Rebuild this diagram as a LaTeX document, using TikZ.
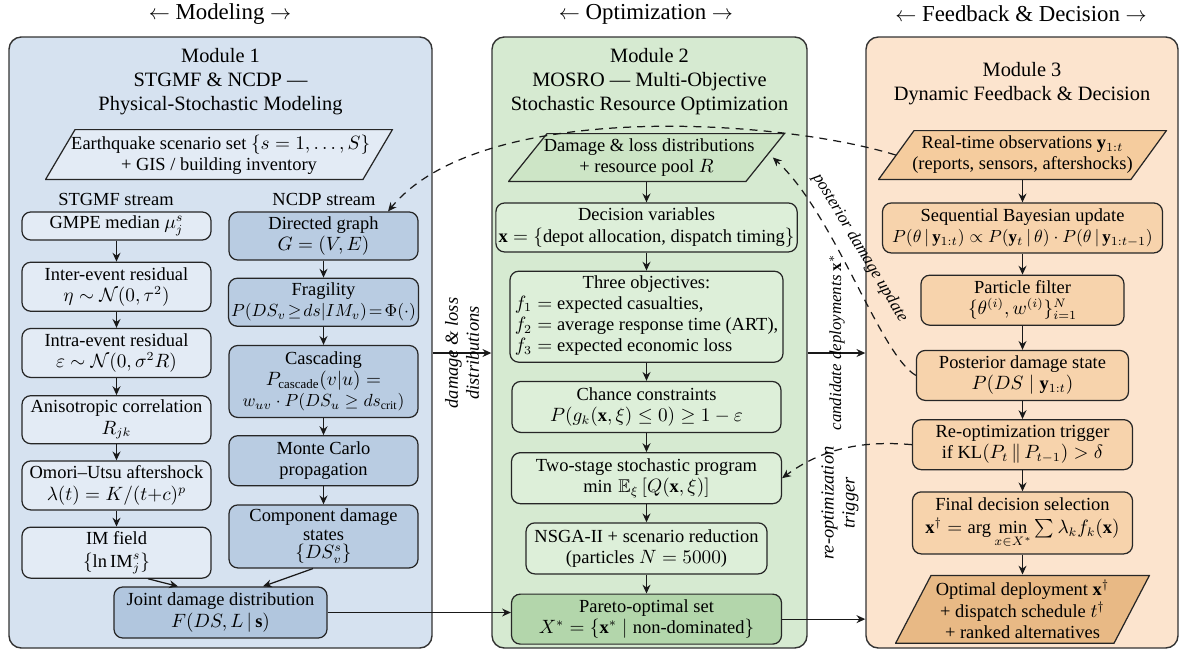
\documentclass[tikz,border=0pt]{standalone}
\usepackage{amsmath,amssymb}
\usepackage{fontspec}
\setmainfont{Liberation Serif}
\usepackage{tikz}
\usetikzlibrary{arrows.meta, positioning, calc}

\definecolor{modblue}{HTML}{D6E2F0}
\definecolor{boxblue}{HTML}{E3EBF5}
\definecolor{ncdpblue}{HTML}{B9CCE2}
\definecolor{jointblue}{HTML}{B1C6DE}
\definecolor{modgreen}{HTML}{D6EAD1}
\definecolor{boxgreen}{HTML}{DDEFD9}
\definecolor{inputgreen}{HTML}{CDE5C6}
\definecolor{paretogreen}{HTML}{B3D6AB}
\definecolor{modorange}{HTML}{FCE4CE}
\definecolor{boxorange}{HTML}{F7D3AC}
\definecolor{inputorange}{HTML}{F5CC9E}
\definecolor{outorange}{HTML}{E8B985}

\newcommand{\boxfont}{\fontsize{10.5}{12}\selectfont}
\newcommand{\tightfont}{\fontsize{9.6}{11}\selectfont}
\newcommand{\titlefont}{\fontsize{11.6}{13.5}\selectfont}
\newcommand{\headfont}{\fontsize{13}{15}\selectfont}

\tikzset{
  %% Module panel
  panel/.style={
    rectangle, rounded corners=7pt,
    draw=black!80, fill=#1,
    minimum height=12.22cm, line width=0.8pt
  },
  %% Step box inside a module
  sbox/.style={
    rectangle, rounded corners=5pt,
    draw=black!85, fill=#1,
    align=center, font=\boxfont,
    inner sep=1.5pt, line width=0.7pt
  },
  sbox/.default=boxblue,
  %% Input / output parallelogram (fill colour / slant)
  pgram/.style 2 args={
    rectangle, align=center, font=\boxfont, inner sep=1.5pt,
    path picture={
      \draw[fill=#1, draw=black!85, line width=0.7pt]
        ([shift={(#2,-0.35pt)}]path picture bounding box.north west) --
        ([shift={(-0.35pt,-0.35pt)}]path picture bounding box.north east) --
        ([shift={(-#2,0.35pt)}]path picture bounding box.south east) --
        ([shift={(0.35pt,0.35pt)}]path picture bounding box.south west) -- cycle;
    }
  },
  %% Plain text label
  plain/.style={font=\boxfont, inner sep=1pt},
  %% Arrows
  arr/.style={-{Stealth[length=5pt,width=4.5pt]},
              draw=black!90, line width=0.7pt},
  darr/.style={arr, dash pattern=on 4.5pt off 3.5pt},
  %% Edge label
  elab/.style={font=\boxfont\itshape, align=center, inner sep=1pt},
}

\begin{document}
\begin{tikzpicture}

  \useasboundingbox (0,0) rectangle (23.62,-13.1);

  %% Column headers
  \node[font=\headfont] (h1) at (4.4,-0.28)   {$\leftarrow$ Modeling $\rightarrow$};
  \node[font=\headfont] (h2) at (12.92,-0.28) {$\leftarrow$ Optimization $\rightarrow$};
  \node[font=\headfont] (h3) at (20.42,-0.28) {$\leftarrow$ Feedback \& Decision $\rightarrow$};

  %% Module panels
  \node[panel=modblue,   minimum width=8.46cm] (m1) at (4.41,-6.85)  {};
  \node[panel=modgreen,  minimum width=6.3cm]  (m2) at (12.99,-6.85) {};
  \node[panel=modorange, minimum width=6.24cm] (m3) at (20.44,-6.85) {};

  %% Module titles
  \node[font=\titlefont, align=center] (t1) at (4.41,-1.63)
        {Module 1\\STGMF \& NCDP ---\\Physical-Stochastic Modeling};
  \node[font=\titlefont, align=center] (t2) at (12.99,-1.63)
        {Module 2\\MOSRO --- Multi-Objective\\Stochastic Resource Optimization};
  \node[font=\titlefont, align=center] (t3) at (20.44,-1.67)
        {Module 3\\Dynamic Feedback \& Decision};

  %% Module 1: scenario input
  \node[pgram={boxblue}{0.6cm}, minimum width=6.96cm, minimum height=1.02cm] (eq)
        at (4.38,-3.09)
        {\hspace*{2pt}Earthquake scenario set $\{s=1,\ldots,S\}$\\+ GIS / building inventory};
  \node[plain] (sl) at (2.32,-3.98) {STGMF stream};
  \node[plain] (nl) at (6.48,-3.98) {NCDP stream};

  %% STGMF stream
  \node[sbox=boxblue, minimum width=3.78cm, minimum height=0.56cm] (g1)
        at (2.33,-4.52) {GMPE median $\mu_j^s$};
  \node[sbox=boxblue, minimum width=3.78cm, minimum height=0.98cm,
        below=0.42cm of g1] (g2)
        {Inter-event residual\\$\eta\sim\mathcal{N}(0,\tau^2)$};
  \node[sbox=boxblue, minimum width=3.78cm, minimum height=0.98cm,
        below=0.32cm of g2] (g3)
        {Intra-event residual\\$\varepsilon\sim\mathcal{N}(0,\sigma^2 R)$};
  \node[sbox=boxblue, minimum width=3.78cm, minimum height=0.96cm,
        below=0.34cm of g3] (g4)
        {Anisotropic correlation\\$R_{jk}$};
  \node[sbox=boxblue, minimum width=3.78cm, minimum height=0.98cm,
        below=0.32cm of g4] (g5)
        {Omori--Utsu aftershock\\$\lambda(t)=K/(t{+}c)^p$};
  \node[sbox=boxblue, minimum width=3.78cm, minimum height=1.02cm,
        below=0.32cm of g5] (g6)
        {IM field\\[1pt]$\{\ln\mathrm{IM}_j^s\}$};

  %% NCDP stream
  \node[sbox=ncdpblue, minimum width=3.78cm, minimum height=0.96cm] (n1)
        at (6.47,-4.72) {Directed graph\\$G=(V,E)$};
  \node[sbox=ncdpblue, minimum width=3.78cm, minimum height=0.96cm,
        below=0.34cm of n1] (n2)
        {Fragility\\{\tightfont$P(DS_v\!\geq\! ds|IM_v)\!=\!\Phi(\cdot)$}};
  \node[sbox=ncdpblue, minimum width=3.78cm, minimum height=1.44cm,
        below=0.36cm of n2] (n3)
        {Cascading\\$P_{\mathrm{cascade}}(v|u)=$\\
         {\tightfont$w_{uv}\cdot P(DS_u\geq ds_{\mathrm{crit}})$}};
  \node[sbox=ncdpblue, minimum width=3.78cm, minimum height=1.0cm,
        below=0.34cm of n3] (n4)
        {Monte Carlo\\propagation};
  \node[sbox=ncdpblue, minimum width=3.78cm, minimum height=1.26cm,
        below=0.36cm of n4, font=\fontsize{10.5}{10.5}\selectfont] (n5)
        {Component damage\\states\\$\{DS_v^s\}$};

  %% Joint distribution
  \node[sbox=jointblue, minimum width=4.26cm, minimum height=1.02cm] (jd)
        at (4.41,-12.25)
        {Joint damage distribution\\$F(DS,L\,|\,\mathbf{s})$};

  %% Module 2
  \node[pgram={inputgreen}{0.78cm}, minimum width=5.54cm, minimum height=0.98cm] (dl)
        at (12.93,-3.15)
        {\hspace*{3pt}Damage \& loss distributions\\+ resource pool $R$};
  \node[sbox=boxgreen, minimum width=6.0cm, minimum height=0.98cm,
        below=0.4cm of dl] (dv)
        {Decision variables\\$\mathbf{x}=\{$depot allocation, dispatch timing$\}$};
  \node[sbox=boxgreen, minimum width=5.46cm, minimum height=1.82cm,
        below=0.36cm of dv] (ob)
        {Three objectives:\\
         \begin{tabular}{@{}l@{}}
         $f_1=$ expected casualties,\\
         $f_2=$ average response time (ART),\\
         $f_3=$ expected economic loss
         \end{tabular}};
  \node[sbox=boxgreen, minimum width=5.38cm, minimum height=1.02cm,
        below=0.36cm of ob] (cc)
        {Chance constraints\\$P(g_k(\mathbf{x},\xi)\leq 0)\geq 1-\varepsilon$};
  \node[sbox=boxgreen, minimum width=5.4cm, minimum height=1.02cm,
        below=0.38cm of cc] (ts)
        {Two-stage stochastic program\\$\min\,\mathbb{E}_\xi\,[Q(\mathbf{x},\xi)]$};
  \node[sbox=boxgreen, minimum width=4.82cm, minimum height=1.02cm,
        below=0.36cm of ts] (ns)
        {NSGA-II + scenario reduction\\(particles $N=5000$)};
  \node[sbox=paretogreen, minimum width=5.4cm, minimum height=1.0cm,
        below=0.38cm of ns] (po)
        {Pareto-optimal set\\$X^*=\{\mathbf{x}^*\mid\text{non-dominated}\}$};

  %% Module 3
  \node[pgram={inputorange}{0.72cm}, minimum width=5.78cm, minimum height=1.0cm] (ro)
        at (20.45,-3.1)
        {Real-time observations $\mathbf{y}_{1:t}$\\(reports, sensors, aftershocks)};
  \node[sbox=boxorange, minimum width=5.6cm, minimum height=1.0cm,
        below=0.44cm of ro] (sb)
        {Sequential Bayesian update\\
         {\tightfont$P(\theta\,|\,\mathbf{y}_{1:t})\propto P(\mathbf{y}_t\,|\,\theta)\cdot P(\theta\,|\,\mathbf{y}_{1:t-1})$}};
  \node[sbox=boxorange, minimum width=4.06cm, minimum height=1.0cm,
        below=0.42cm of sb] (pf)
        {Particle filter\\$\{\theta^{(i)},w^{(i)}\}_{i=1}^N$};
  \node[sbox=boxorange, minimum width=4.24cm, minimum height=1.0cm,
        below=0.48cm of pf] (pd)
        {Posterior damage state\\$P(DS\mid\mathbf{y}_{1:t})$};
  \node[sbox=boxorange, minimum width=4.4cm, minimum height=1.0cm,
        below=0.36cm of pd] (rt)
        {Re-optimization trigger\\if $\mathrm{KL}(P_t\,\|\,P_{t-1})>\delta$};
  \node[sbox=boxorange, minimum width=4.4cm, minimum height=1.24cm,
        below=0.42cm of rt] (fd)
        {Final decision selection\\[1pt]$\mathbf{x}^\dagger=\arg\min\limits_{x\in X^*}\sum\lambda_k f_k(\mathbf{x})$};
  \node[pgram={outorange}{0.72cm}, minimum width=5.1cm, minimum height=1.38cm,
        below=0.4cm of fd] (od)
        {Optimal deployment $\mathbf{x}^\dagger$\\+ dispatch schedule $t^\dagger$\\+ ranked alternatives};

  %% Straight arrows
  \foreach \a/\b in {g1/g2, g2/g3, g3/g4, g4/g5, g5/g6,
                     n1/n2, n2/n3, n3/n4, n4/n5,
                     dl/dv, dv/ob, ob/cc, cc/ts, ts/ns, ns/po,
                     ro/sb, sb/pf, pf/pd, pd/rt, rt/fd, fd/od}
    \draw[arr] (\a) -- (\b);

  %% Merge into joint distribution
  \draw[arr] ([xshift=0.63cm]g6.south) -- ([xshift=-0.85cm]jd.north);
  \draw[arr] ([xshift=-0.21cm]n5.south) -- ([xshift=0.85cm]jd.north);

  %% Between modules
  \draw[arr] (jd.east) -- (jd.east -| po.west);
  \draw[arr] (po.east) -- (po.east -| m3.west);
  \draw[arr] ([yshift=-0.21cm]m1.east) --
        node[elab, rotate=90] (dll) {damage \& loss\\distributions}
        ([yshift=-0.21cm]m2.west);
  \draw[arr] ([yshift=-0.21cm]m2.east) -- ([yshift=-0.21cm]m3.west);
  \node[elab, rotate=90, font=\tightfont\itshape] (cdl) at (16.74,-6.85)
        {candidate deployments $\mathbf{x}^*$};

  %% Feedback loops
  \draw[darr] ([xshift=0.36cm]ro.west) .. controls (15.5,-2.36) and (9.6,-2.0) ..
        ([xshift=1.29cm]n1.north);
  \draw[darr] (pd.west) .. controls (17.6,-7.1) and (16.7,-4.3) ..
        ([xshift=-0.25cm]dl.east);
  \node[elab, rotate=-59, font=\tightfont\itshape] (pdl) at (17.2,-4.96)
        {posterior damage update};
  \draw[darr] (rt.west) .. controls (17.2,-8.8) and (16.4,-9.0) .. (ts.east);
  \node[elab, rotate=90] (rtl) at (16.8,-10.06) {re-optimization\\trigger};

\end{tikzpicture}
\end{document}
